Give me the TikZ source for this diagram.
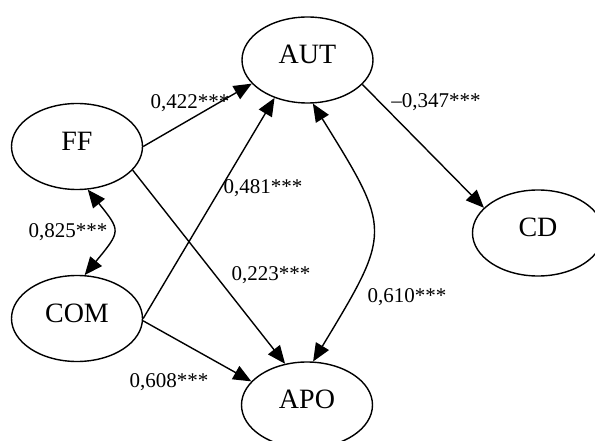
\documentclass[tikz,border=0pt]{standalone}
\usepackage{fontspec}
\setmainfont{Liberation Serif}
\usetikzlibrary{shapes.geometric,arrows.meta}
\tikzset{
  latent/.style={ellipse, draw, line width=1.4pt, minimum width=131pt, minimum height=86pt, inner sep=0pt, text depth=11pt, font=\fontsize{28}{30}\selectfont},
  coef/.style={inner sep=0pt, font=\fontsize{21}{23}\selectfont},
  path/.style={line width=1.4pt, -{Triangle[length=18pt,width=15pt]}},
  cov/.style={line width=1.4pt, {Triangle[length=18pt,width=15pt]}-{Triangle[length=18pt,width=15pt]}}
}
\begin{document}
\begin{tikzpicture}[x=1pt,y=-1pt]
\clip (0,0) rectangle (595,441);
\fill[white] (0,0) rectangle (595,441);
\node[latent] (AUT) at (307.5,60) {AUT};
\node[latent] (FF) at (77,146.5) {FF};
\node[latent] (COM) at (77,318.5) {COM};
\node[latent] (APO) at (307,405) {APO};
\node[latent] (CD) at (538,233) {CD};

\draw[path] (FF.0) -- (AUT.203);
\draw[path] (COM.0) -- (AUT.229);
\draw[path] (FF.337) -- (APO.118);
\draw[path] (COM.358) -- (APO.157);
\draw[path] (AUT.336) -- (CD.155);
\draw[cov] (AUT.277) .. controls (392,231) and (392,231) .. (APO.82);
\draw[cov] (FF.284) .. controls (121,231) and (121,231) .. (COM.80);

\node[coef] (l1) at (190,103) {0,422***};
\node[coef] (l2) at (263,188) {0,481***};
\node[coef] (l3) at (436,102) {–0,347***};
\node[coef] (l4) at (68,232) {0,825***};
\node[coef] (l5) at (271,275) {0,223***};
\node[coef] (l6) at (407,297) {0,610***};
\node[coef] (l7) at (169,382) {0,608***};
\end{tikzpicture}
\end{document}
